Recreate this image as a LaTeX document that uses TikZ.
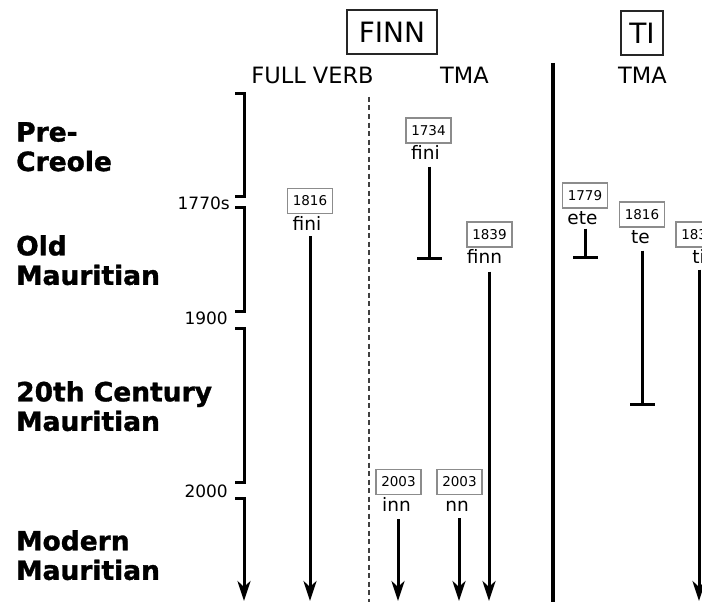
\documentclass[tikz,border=0pt]{standalone}
\usepackage{fontspec}
\setmainfont{DejaVu Sans}
\newfontfamily\erafont[FakeBold=1.2]{DejaVu Sans Bold}
\usetikzlibrary{arrows.meta}
\begin{document}
\begin{tikzpicture}[x=1pt,y=-1pt,
  era/.style={anchor=north west, inner sep=0, align=left, font=\fontsize{26.5}{29.5}\erafont},
  datelab/.style={anchor=east, inner sep=0, font=\fontsize{17}{20}\selectfont},
  head/.style={anchor=base, inner sep=0, font=\fontsize{22.5}{26}\selectfont},
  lexbox/.style={draw=black!85, line width=1.4pt, inner sep=0, minimum height=44pt, font=\fontsize{28}{32}\selectfont},
  yearbox/.style={draw=black!45, line width=1.2pt, minimum width=45pt, minimum height=25pt, inner sep=0, font=\fontsize{13.5}{15}\selectfont},
  form/.style={anchor=base, inner sep=0, font=\fontsize{18.5}{20}\selectfont},
  tl/.style={line width=3pt},
  arr/.style={tl, -{Stealth[length=20pt,width=13pt,inset=6pt]}},
  stopbar/.style={tl, -{Bar[width=25pt]}},
  axis/.style={line width=3pt},
]
\useasboundingbox (0,0) rectangle (702,602);
\clip (0,0) rectangle (702,602);

% headers
\node[lexbox, minimum width=90pt] (finn) at (392,32) {FINN};
\node[lexbox, minimum width=42pt] (ti) at (642,33) {TI};
\node[head] (fv) at (312.5,84) {FULL VERB};
\node[head] (tma1) at (464.5,84) {TMA};
\node[head] (tma2) at (642.5,84) {TMA};

% separators
\coordinate (sepT) at (553,63);
\coordinate (sepB) at (553,602);
\draw[line width=3.2pt] (sepT) -- (sepB);
\coordinate (dashT) at (369,97);
\coordinate (dashB) at (369,602);
\draw[line width=1.9pt, black!75, dash pattern=on 5pt off 3.5pt] (dashT) -- (dashB);

% era labels
\node[era] (pre) at (16,122) {Pre-\\Creole};
\node[era] (old) at (16,235) {Old\\Mauritian};
\node[era] (twen) at (16,381) {20th Century\\Mauritian};
\node[era] (mod) at (16,530) {Modern\\Mauritian};

% time axis
\coordinate (a1) at (235,94);  \coordinate (a2) at (244,94);
\coordinate (a3) at (244,196); \coordinate (a4) at (235,196);
\coordinate (b1) at (235,207); \coordinate (b2) at (244,207);
\coordinate (b3) at (244,311); \coordinate (b4) at (235,311);
\coordinate (c1) at (235,328); \coordinate (c2) at (244,328);
\coordinate (c3) at (244,482); \coordinate (c4) at (235,482);
\coordinate (d1) at (235,498); \coordinate (d2) at (244,498);
\coordinate (d3) at (244,601);
\draw[axis] (a1) -- (a2) -- (a3) -- (a4);
\draw[axis] (b1) -- (b2) -- (b3) -- (b4);
\draw[axis] (c1) -- (c2) -- (c3) -- (c4);
\draw[axis, -{Stealth[length=20pt,width=13pt,inset=6pt]}] (d1) -- (d2) -- (d3);
\node[datelab] (t1770) at (230,203) {1770s};
\node[datelab] (t1900) at (228,318) {1900};
\node[datelab] (t2000) at (228,491) {2000};

% FULL VERB fini 1816
\node[yearbox] (y1816a) at (310,201) {1816};
\node[form] (fini1) at ([xshift=-3pt,yshift=-16pt]y1816a.south) {fini};
\coordinate (e1) at (310,601);
\draw[arr] ([yshift=-6pt]fini1.base -| e1) -- (e1);

% TMA fini 1734
\node[yearbox] (y1734) at (428.5,130.5) {1734};
\node[form] (fini2) at ([xshift=-3pt,yshift=-16pt]y1734.south) {fini};
\coordinate (e2) at (429,260);
\draw[stopbar] ([yshift=-7pt]fini2.base -| e2) -- (e2);

% TMA finn 1839
\node[yearbox] (y1839) at (489.5,234.5) {1839};
\node[form] (finn1) at ([xshift=-5pt,yshift=-16pt]y1839.south) {finn};
\coordinate (e3) at (489,601);
\draw[arr] ([yshift=-8pt]finn1.base -| e3) -- (e3);

% TMA inn / nn 2003
\node[yearbox] (y2003a) at (398.5,482) {2003};
\node[form] (inn) at ([xshift=-2pt,yshift=-16pt]y2003a.south) {inn};
\coordinate (e4) at (398,601);
\draw[arr] ([yshift=-8pt]inn.base -| e4) -- (e4);

\node[yearbox] (y2003b) at (459.5,482) {2003};
\node[form] (nn) at ([xshift=-2.5pt,yshift=-16pt]y2003b.south) {nn};
\coordinate (e5) at (459,601);
\draw[arr] ([yshift=-7pt]nn.base -| e5) -- (e5);

% TI ete 1779
\node[yearbox] (y1779) at (585,195.5) {1779};
\node[form] (ete) at ([xshift=-2.5pt,yshift=-16pt]y1779.south) {ete};
\coordinate (e6) at (585,259);
\draw[stopbar] ([yshift=-4pt]ete.base -| e6) -- (e6);

% TI te 1816
\node[yearbox] (y1816b) at (642,214.5) {1816};
\node[form] (te) at ([xshift=-1.5pt,yshift=-16pt]y1816b.south) {te};
\coordinate (e7) at (642,406);
\draw[stopbar] ([yshift=-7pt]te.base -| e7) -- (e7);

% TI ti 1839 (cut at the edge, as in the reference)
\node[yearbox] (y1839b) at (698.5,234.5) {1839};
\node[form] (tiw) at ([yshift=-16pt]y1839b.south) {ti};
\coordinate (e8) at (699,601);
\draw[arr] ([yshift=-6pt]tiw.base -| e8) -- (e8);
\end{tikzpicture}
\end{document}
